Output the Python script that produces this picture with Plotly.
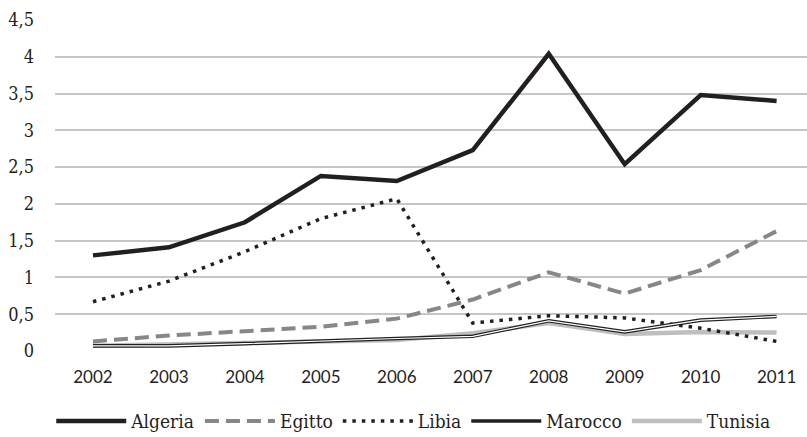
import plotly.graph_objects as go

years = ["2002", "2003", "2004", "2005", "2006", "2007", "2008", "2009", "2010", "2011"]
algeria = [1.30, 1.41, 1.75, 2.38, 2.31, 2.73, 4.04, 2.54, 3.48, 3.40]
egitto = [0.13, 0.21, 0.27, 0.33, 0.44, 0.70, 1.07, 0.78, 1.10, 1.63]
libia = [0.67, 0.95, 1.35, 1.80, 2.07, 0.38, 0.48, 0.45, 0.31, 0.13]
marocco = [0.07, 0.07, 0.10, 0.14, 0.17, 0.20, 0.41, 0.26, 0.42, 0.47]
tunisia = [0.07, 0.09, 0.10, 0.12, 0.15, 0.24, 0.38, 0.23, 0.26, 0.25]

serif = "DejaVu Serif Condensed, DejaVu Serif"
sans = "Lato"

fig = go.Figure()
fig.add_trace(go.Scatter(x=years, y=tunisia, name="Tunisia", mode="lines",
                         line=dict(color="#bebebe", width=4.5), legendrank=5))
fig.add_trace(go.Scatter(x=years, y=egitto, name="Egitto", mode="lines",
                         line=dict(color="#878787", width=4, dash="14px,7px"), legendrank=2))
fig.add_trace(go.Scatter(x=years, y=libia, name="Libia", mode="lines",
                         line=dict(color="#231f20", width=3.5, dash="3.5px,6px"), legendrank=3))
fig.add_trace(go.Scatter(x=years, y=marocco, name="Marocco", mode="lines",
                         line=dict(color="#231f20", width=3.6), legendrank=4,
                         legendgroup="mar"))
fig.add_trace(go.Scatter(x=years, y=marocco, name="Marocco", mode="lines",
                         line=dict(color="#ffffff", width=1.2), showlegend=False,
                         legendgroup="mar", hoverinfo="skip"))
fig.add_trace(go.Scatter(x=years, y=algeria, name="Algeria", mode="lines",
                         line=dict(color="#231f20", width=4.5), legendrank=1))

fig.update_layout(
    width=807, height=437,
    margin=dict(l=55, r=0, t=20, b=86, autoexpand=False),
    paper_bgcolor="white", plot_bgcolor="white",
    separators=", ",
    showlegend=True,
    legend=dict(orientation="h", x=-0.005, xanchor="left", y=-0.212, yanchor="middle",
                font=dict(family=serif, size=19, color="#231f20"),
                itemwidth=70, traceorder="normal"),
    xaxis=dict(type="category", range=[-0.5, 9.4], showgrid=False, showline=False,
               zeroline=False, ticks="", ticklabelstandoff=14, automargin=False,
               ticklabeloverflow="allow",
               tickfont=dict(family=sans, size=17, color="#231f20")),
    yaxis=dict(range=[0, 4.5], dtick=0.5, tick0=0, showgrid=True, gridcolor="#c6c6c8",
               gridwidth=2, zeroline=False, showline=False, ticks="",
               ticklabelstandoff=20, automargin=False,
               tickfont=dict(family=serif, size=18, color="#231f20")),
)

fig.write_html("out.html", post_script="document.body.style.margin='0';",
               config={"displayModeBar": False})
